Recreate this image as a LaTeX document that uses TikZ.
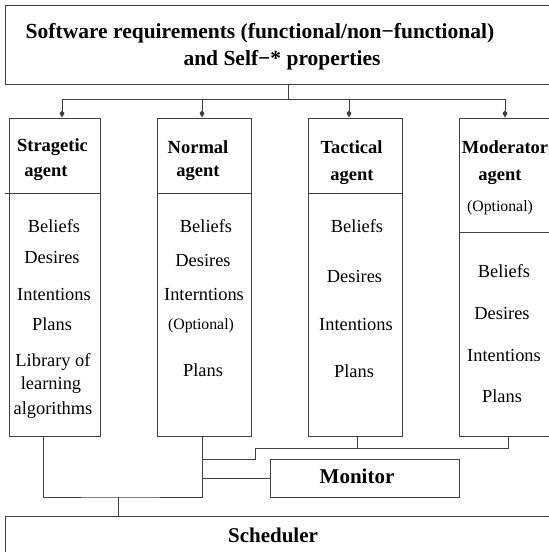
\documentclass[tikz,border=0pt]{standalone}
\usepackage{fontspec}
\setmainfont{Liberation Serif}
\usetikzlibrary{arrows.meta}
\begin{document}
\begin{tikzpicture}[x=1pt,y=-1pt,
  box/.style={draw=black!75, line width=0.9pt, inner sep=0pt},
  line/.style={draw=black!75, line width=0.9pt},
  arr/.style={line, -{Kite[length=7pt,width=5pt,inset=2.5pt]}},
  ttl/.style={font=\fontsize{21.5}{24}\selectfont\bfseries, inner sep=0pt},
  hd/.style={font=\fontsize{18.5}{21}\selectfont\bfseries, inner sep=0pt},
  bd/.style={font=\fontsize{18.4}{21}\selectfont, inner sep=0pt},
  opt/.style={font=\fontsize{15.8}{18}\selectfont, inner sep=0pt},
  big/.style={font=\fontsize{21}{24}\selectfont\bfseries, inner sep=0pt}]
\useasboundingbox (0,0) rectangle (549,552);

% top box
\node[box, minimum width=560pt, minimum height=79pt] (req) at (285,44.5) {};
\node[ttl] (req1) at (260,33) {Software requirements (functional/non−functional)};
\node[ttl] (req2) at (282,60) {and Self−* properties};

% agent boxes
\node[box, minimum width=91pt, minimum height=318pt] (b1) at (54.5,277) {};
\node[box, minimum width=94pt, minimum height=318pt] (b2) at (204,277) {};
\node[box, minimum width=94pt, minimum height=318pt] (b3) at (355,277) {};
\node[box, minimum width=110pt, minimum height=318pt] (b4) at (514,277) {};

\draw[line] ([xshift=-4pt]b1.west |- 0,193) -- (b1.east |- 0,193);
\draw[line] (b2.west |- 0,193) -- (b2.east |- 0,193);
\draw[line] (b3.west |- 0,193) -- (b3.east |- 0,193);
\draw[line] (b4.west |- 0,232) -- (b4.east |- 0,232);

% headings
\node[hd] (h1a) at (52.5,147) {Stragetic};
\node[hd] (h1b) at (46,173) {agent};
\node[hd] (h2a) at (198,147) {Normal};
\node[hd] (h2b) at (198,173) {agent};
\node[hd] (h3a) at (351.5,147) {Tactical};
\node[hd] (h3b) at (352,177) {agent};
\node[hd] (h4a) at (505,147) {Moderator};
\node[hd] (h4b) at (500,177) {agent};
\node[opt] (h4c) at (500,208) {(Optional)};

% box 1 body
\node[bd] (s1) at (54,226) {Beliefs};
\node[bd] (s2) at (52,257) {Desires};
\node[bd] (s3) at (54,294) {Intentions};
\node[bd] (s4) at (52,324) {Plans};
\node[bd] (s5) at (53,362) {Library of};
\node[bd] (s6) at (51,385) {learning};
\node[bd] (s7) at (53,410) {algorithms};

% box 2 body
\node[bd] (n1) at (206,226) {Beliefs};
\node[bd] (n2) at (203,260) {Desires};
\node[bd] (n3) at (204,294) {Interntions};
\node[opt] (n4) at (201,326) {(Optional)};
\node[bd] (n5) at (203,370) {Plans};

% box 3 body
\node[bd] (t1) at (357,226) {Beliefs};
\node[bd] (t2) at (354.5,276) {Desires};
\node[bd] (t3) at (356,324) {Intentions};
\node[bd] (t4) at (354,371) {Plans};

% box 4 body
\node[bd] (m1) at (504,271) {Beliefs};
\node[bd] (m2) at (502,313) {Desires};
\node[bd] (m3) at (504,355) {Intentions};
\node[bd] (m4) at (502,396) {Plans};

% monitor and scheduler
\node[box, minimum width=189pt, minimum height=38pt] (mon) at (364.5,478) {};
\node[big] (monl) at (357,476) {Monitor};
\node[box, minimum width=560pt, minimum height=60pt] (sch) at (285,546) {};
\node[big] (schl) at (273,535) {Scheduler};

% top connectors
\coordinate (bus) at (288,99);
\draw[line] (req.south -| bus) -- (bus);
\draw[arr] (bus) -| ([xshift=7.5pt]b1.north);
\draw[arr] (bus) -| ([xshift=-2pt]b2.north);
\draw[arr] (bus) -| ([xshift=-6pt]b3.north);
\draw[arr] (bus) -| ([xshift=-9pt]b4.north);

% bottom connectors
\coordinate (lowbus) at (118,497);
\coordinate (jog) at (255,448);
\draw[line] ([xshift=-11.5pt]b1.south) |- (lowbus) -| ([xshift=-2pt]b2.south);
\draw[line] (lowbus) -- (sch.north -| lowbus);
\draw[line] ([xshift=-2pt]b2.south |- 0,459) -| (jog) -| ([xshift=-6pt]b4.south);
\draw[line] ([xshift=2pt]b3.south) -- ([xshift=2pt]b3.south |- jog);
\draw[line] ([xshift=-2pt]b2.south |- mon.west) -- (mon.west);
\end{tikzpicture}
\end{document}
